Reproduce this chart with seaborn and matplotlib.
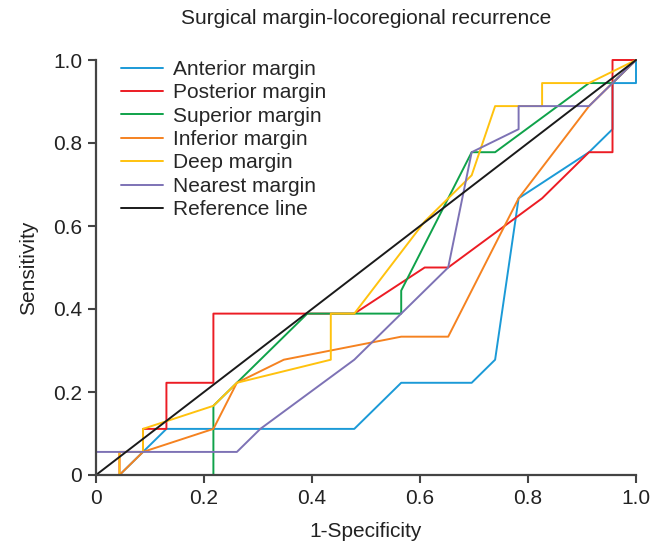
import matplotlib
matplotlib.use("Agg")
import matplotlib.pyplot as plt
import seaborn as sns
import pandas as pd
from matplotlib.lines import Line2D

# ---- data ----
anterior_x = [0, 0.0435, 0.087, 0.1304, 0.4783, 0.5652, 0.6957, 0.7391, 0.7826, 0.913, 0.9565, 0.9565, 1, 1]
anterior_y = [0, 0, 0.0556, 0.1111, 0.1111, 0.2222, 0.2222, 0.2778, 0.6667, 0.7778, 0.8333, 0.9444, 0.9444, 1]

posterior_x = [0, 0.0435, 0.0435, 0.087, 0.087, 0.1304, 0.1304, 0.2174, 0.2174, 0.4783, 0.6087, 0.6522, 0.8261, 0.913, 0.9565, 0.9565, 1]
posterior_y = [0, 0, 0.0556, 0.0556, 0.1111, 0.1111, 0.2222, 0.2222, 0.3889, 0.3889, 0.5, 0.5, 0.6667, 0.7778, 0.7778, 1, 1]

superior_x = [0, 0.2174, 0.2174, 0.2609, 0.3913, 0.5652, 0.5652, 0.6957, 0.7391, 0.913, 0.9565, 1]
superior_y = [0, 0, 0.1667, 0.2222, 0.3889, 0.3889, 0.4444, 0.7778, 0.7778, 0.9444, 0.9444, 1]

inferior_x = [0, 0.0435, 0.087, 0.2174, 0.2609, 0.3478, 0.5652, 0.6522, 0.7826, 0.913, 1]
inferior_y = [0, 0, 0.0556, 0.1111, 0.2222, 0.2778, 0.3333, 0.3333, 0.6667, 0.8889, 1]

deep_x = [0, 0.0435, 0.0435, 0.087, 0.087, 0.2174, 0.2609, 0.4348, 0.4348, 0.4783, 0.6087, 0.6957, 0.7391, 0.8261, 0.8261, 0.913, 1]
deep_y = [0, 0, 0.0556, 0.0556, 0.1111, 0.1667, 0.2222, 0.2778, 0.3889, 0.3889, 0.6111, 0.7222, 0.8889, 0.8889, 0.9444, 0.9444, 1]

nearest_x = [0, 0, 0.2609, 0.3043, 0.4783, 0.5652, 0.6522, 0.6957, 0.7826, 0.7826, 0.913, 1]
nearest_y = [0, 0.0556, 0.0556, 0.1111, 0.2778, 0.3889, 0.5, 0.7778, 0.8333, 0.8889, 0.8889, 1]

reference_x = [0, 1]
reference_y = [0, 1]

series_names = ["Anterior margin", "Posterior margin", "Superior margin",
                "Inferior margin", "Deep margin", "Nearest margin", "Reference line"]
series_x = [anterior_x, posterior_x, superior_x, inferior_x, deep_x, nearest_x, reference_x]
series_y = [anterior_y, posterior_y, superior_y, inferior_y, deep_y, nearest_y, reference_y]

tick_values = [0, 0.2, 0.4, 0.6, 0.8, 1.0]
tick_labels = ["0", "0.2", "0.4", "0.6", "0.8", "1.0"]

colors = ["#1b9ad7", "#ec1c24", "#0fa24a", "#f58220", "#ffc20e", "#7d72b5", "#1a1a1a"]

rows = []
for name, xs, ys in zip(series_names, series_x, series_y):
    for i, (xv, yv) in enumerate(zip(xs, ys)):
        rows.append({"margin": name, "order": i, "fpr": xv, "tpr": yv})
df = pd.DataFrame(rows)

# ---- plot ----
sns.set_theme(style="ticks")
plt.rcParams["font.family"] = ["Liberation Sans", "DejaVu Sans"]

FS = 15
fig = plt.figure(figsize=(6.63, 5.44), dpi=100)
ax = fig.add_axes([96 / 663, (544 - 475) / 544, 540 / 663, 415 / 544])

sns.lineplot(data=df, x="fpr", y="tpr", hue="margin", hue_order=series_names,
             palette=dict(zip(series_names, colors)), sort=False, estimator=None,
             linewidth=1.4, ax=ax, clip_on=False, legend=False)

handles = [Line2D([0], [0], color=c, lw=1.4) for c in colors]
ax.legend(handles, series_names, loc="upper left", bbox_to_anchor=(0.046, 1.0),
          frameon=False, fontsize=FS, handlelength=2.0, handletextpad=0.48,
          labelspacing=0.21, borderpad=0, borderaxespad=0)

ax.set_xlim(0, 1)
ax.set_ylim(0, 1)
ax.set_xticks(tick_values)
ax.set_xticklabels(tick_labels)
ax.set_yticks(tick_values)
ax.set_yticklabels(tick_labels)
ax.tick_params(axis="both", labelsize=FS, length=6, width=1.5, color="#444444",
               labelcolor="#222222", pad=4)
for s in ["top", "right"]:
    ax.spines[s].set_visible(False)
for s in ["left", "bottom"]:
    ax.spines[s].set_linewidth(1.6)
    ax.spines[s].set_color("#444444")

ax.set_xlabel("1-Specificity", fontsize=FS, color="#222222", labelpad=10)
ax.set_ylabel("Sensitivity", fontsize=FS, color="#222222", labelpad=11)
fig.text(366 / 663, 1 - 18 / 544, "Surgical margin-locoregional recurrence",
         ha="center", va="center", fontsize=FS, color="#222222")

fig.savefig("out.png", dpi=100)
